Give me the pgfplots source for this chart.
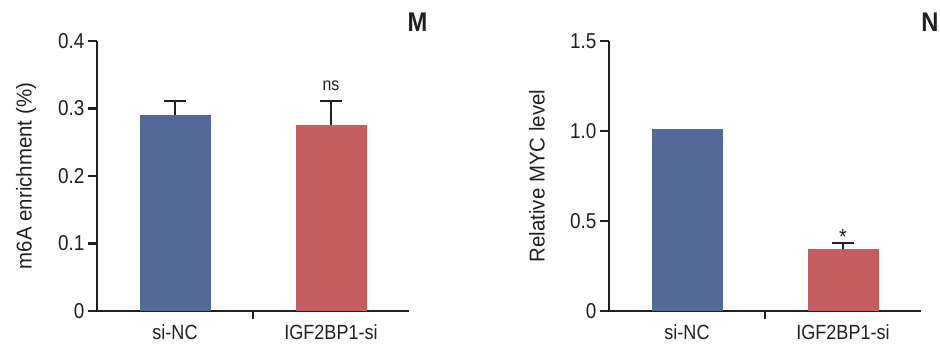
\documentclass[border=0pt]{standalone}
\usepackage{fontspec}
\setmainfont{Liberation Sans}[FakeStretch=0.88]
\newfontfamily\labfont{Liberation Sans}[FakeStretch=0.95]
\usepackage{pgfplots}
\pgfplotsset{compat=1.18}
\definecolor{barblue}{HTML}{556999}
\definecolor{barred}{HTML}{C45E60}
\definecolor{ink}{HTML}{231F20}
\pgfplotsset{
  panel/.style={
    scale only axis, width=312pt, height=270pt,
    axis lines*=left,
    axis line style={ink, line width=2.6pt, -},
    xmin=-0.5, xmax=1.5, ymin=0,
    xtick={0,1}, xticklabels={si-NC,IGF2BP1-si},
    tick align=outside, major tick length=9pt,
    xtick style={draw=none},
    ytick style={ink, line width=2.6pt},
    /pgf/number format/assume math mode=true,
    tick label style={font=\fontsize{21.5}{21.5}\selectfont, text=ink},
    xticklabel style={font=\fontsize{20.5}{20.5}\selectfont, yshift=-1pt},
    every axis y label/.style={at={(axis description cs:0,0.5)}, rotate=90, anchor=center,
      font=\labfont\fontsize{21.5}{21.5}\selectfont, text=ink},
    clip=false,
  },
  plainbar/.style={ybar, bar width=71pt, bar shift=0pt, draw=none},
  barstyle/.style={plainbar,
    error bars/y dir=plus, error bars/y explicit,
    error bars/error bar style={ink, line width=2.6pt},
    error bars/error mark options={rotate=90, mark size=11pt, ink, line width=2.6pt}},
}
\begin{document}
\begin{tikzpicture}
\useasboundingbox (0pt,0pt) rectangle (940pt,349pt);
% Panel M
\begin{axis}[panel, at={(97pt,38pt)}, anchor=south west,
  ymax=0.4, ytick={0,0.1,0.2,0.3,0.4}, yticklabels={0,0.1,0.2,0.3,0.4},
  ylabel={m6A enrichment (\%)},
  every axis y label/.append style={yshift=71pt}]
\addplot[barstyle, fill=barblue] coordinates {(0,0.291) +- (0,0.020)};
\addplot[barstyle, fill=barred] coordinates {(1,0.275) +- (0,0.036)};
\draw[ink, line width=2.6pt] (axis cs:0.5,0) -- ++(0pt,-7.5pt);
\node[anchor=base, inner sep=0pt, text=ink, font=\fontsize{18}{18}\selectfont] at (axis cs:1,0.327) {ns};
\end{axis}
% Panel N
\begin{axis}[panel, at={(609pt,38pt)}, anchor=south west,
  ymax=1.5, ytick={0,0.5,1.0,1.5}, yticklabels={0,0.5,1.0,1.5},
  ylabel={Relative MYC level},
  every axis y label/.append style={yshift=72pt}]
\addplot[plainbar, fill=barblue] coordinates {(0,1.01)};
\addplot[barstyle, fill=barred] coordinates {(1,0.344) +- (0,0.033)};
\draw[ink, line width=2.6pt] (axis cs:0.5,0) -- ++(0pt,-7.5pt);
\node[anchor=base, inner sep=0pt, text=ink, font=\fontsize{22}{22}\selectfont] at (axis cs:1,0.367) {*};
\end{axis}
\node[text=ink, font=\bfseries\fontsize{27}{27}\selectfont, inner sep=0pt] at (417.5pt,326.5pt) {M};
\node[text=ink, font=\bfseries\fontsize{27}{27}\selectfont, inner sep=0pt] at (930pt,326.5pt) {N};
\end{tikzpicture}
\end{document}
